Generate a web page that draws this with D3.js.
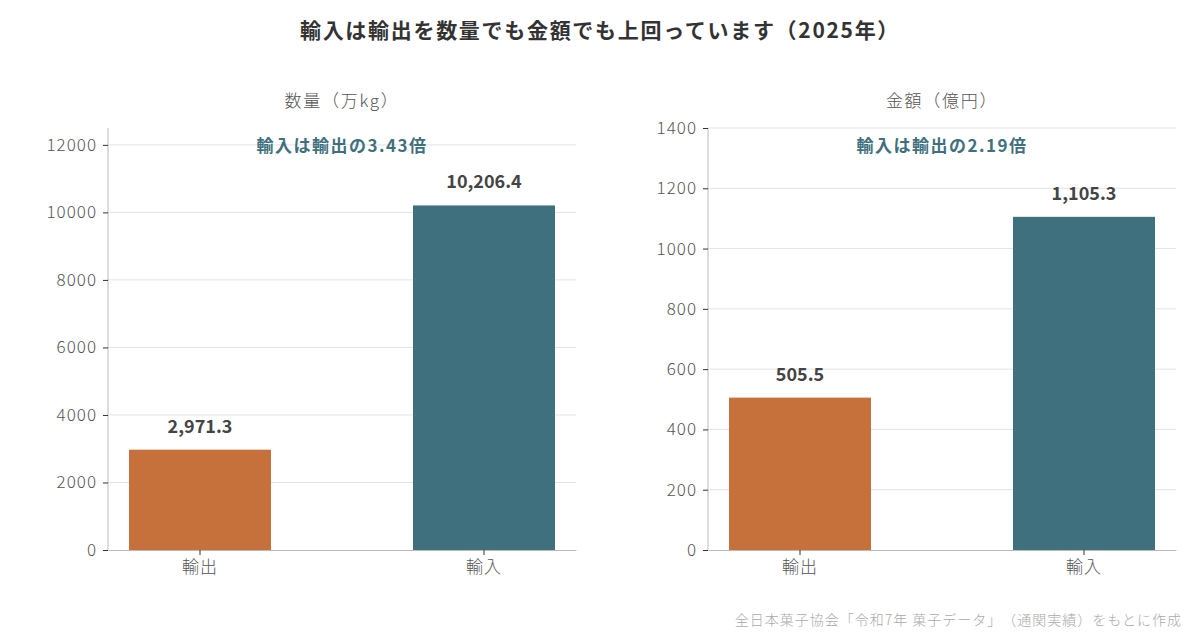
<!DOCTYPE html>
<html><head><meta charset="utf-8">
<script src="https://cdn.jsdelivr.net/npm/d3@7"></script>
<style>
body{margin:0;background:#fff;}
svg{font-family:"Noto Sans CJK JP","Noto Sans",sans-serif;text-spacing-trim:space-all;}
</style></head><body>
<svg id="c" width="1200" height="640"></svg>
<script>
const categories = ["輸出", "輸入"];
const volumeValues = [2971.3, 10206.4];
const valueValues = [505.5, 1105.3];
const volumeTicks = [0, 2000, 4000, 6000, 8000, 10000, 12000];
const valueTicks = [0, 200, 400, 600, 800, 1000, 1200, 1400];
const panelTitles = ["数量（万kg）", "金額（億円）"];
const ratioNotes = ["輸入は輸出の3.43倍", "輸入は輸出の2.19倍"];
const domainMax = [12500, 1400];
const colors = ["#C6703C", "#3F707E"];
const title = "輸入は輸出を数量でも金額でも上回っています（2025年）";
const source = "全日本菓子協会「令和7年 菓子データ」（通関実績）をもとに作成";

const svg = d3.select("#c");
svg.append("text").attr("x", 600).attr("y", 38).attr("text-anchor", "middle")
  .attr("font-size", 21).attr("font-weight", "bold").attr("letter-spacing", 1.7)
  .attr("fill", "#333").text(title);
svg.append("text").attr("x", 1182).attr("y", 625).attr("text-anchor", "end")
  .attr("font-size", 14).attr("font-weight", 300).attr("letter-spacing", 1)
  .attr("fill", "#aaa").text(source);

const panels = [
  {x0: 108, x1: 576, values: volumeValues, ticks: volumeTicks},
  {x0: 708, x1: 1176, values: valueValues, ticks: valueTicks}
];
const yTop = 128, yBot = 550;
const fmt = d3.format(",.1f");

panels.forEach((p, i) => {
  const g = svg.append("g");
  const x = d3.scaleBand().domain(categories).range([p.x0, p.x1]).paddingInner(0.5).paddingOuter(0.074);
  const y = d3.scaleLinear().domain([0, domainMax[i]]).range([yBot, yTop]);

  g.selectAll("line.grid").data(p.ticks.filter(t => t > 0)).join("line")
    .attr("x1", p.x0).attr("x2", p.x1).attr("y1", d => y(d)).attr("y2", d => y(d))
    .attr("stroke", "#e3e3e3").attr("stroke-width", 1);

  g.selectAll("rect").data(categories).join("rect")
    .attr("x", d => x(d)).attr("width", x.bandwidth())
    .attr("y", (d, j) => y(p.values[j])).attr("height", (d, j) => yBot - y(p.values[j]))
    .attr("fill", (d, j) => colors[j]);

  g.selectAll("text.val").data(categories).join("text")
    .attr("x", d => x(d) + x.bandwidth() / 2).attr("y", (d, j) => y(p.values[j]) - 17)
    .attr("text-anchor", "middle").attr("font-size", 18).attr("font-weight", "bold")
    .attr("fill", "#444").text((d, j) => fmt(p.values[j]));

  const ya = g.append("g").attr("transform", `translate(${p.x0},0)`)
    .call(d3.axisLeft(y).tickValues(p.ticks).tickSize(5).tickPadding(6).tickFormat(d3.format("d")));
  ya.select(".domain").attr("stroke", "#bbb").attr("d", `M0,${yTop}V${yBot}`);
  ya.selectAll(".tick line").attr("stroke", "#333");
  ya.selectAll(".tick text").attr("font-size", 17).attr("font-weight", 300).attr("fill", "#555")
    .attr("letter-spacing", 1).attr("font-family", "'Noto Sans CJK JP', sans-serif");

  const xa = g.append("g").attr("transform", `translate(0,${yBot})`)
    .call(d3.axisBottom(x).tickSize(5).tickPadding(6).tickSizeOuter(0));
  xa.select(".domain").attr("stroke", "#bbb");
  xa.selectAll(".tick line").attr("stroke", "#333");
  xa.selectAll(".tick text").attr("font-size", 17).attr("font-weight", 300).attr("fill", "#555")
    .attr("letter-spacing", 1).attr("font-family", "'Noto Sans CJK JP', sans-serif");

  const cx = (p.x0 + p.x1) / 2;
  g.append("text").attr("x", cx).attr("y", 107).attr("text-anchor", "middle")
    .attr("font-size", 17).attr("font-weight", 300).attr("letter-spacing", 1.7)
    .attr("fill", "#555").text(panelTitles[i]);
  g.append("text").attr("x", cx).attr("y", 152).attr("text-anchor", "middle")
    .attr("font-size", 17).attr("font-weight", "bold").attr("letter-spacing", 1.5)
    .attr("fill", "#3F707E").text(ratioNotes[i]);
});
</script>
</body></html>
